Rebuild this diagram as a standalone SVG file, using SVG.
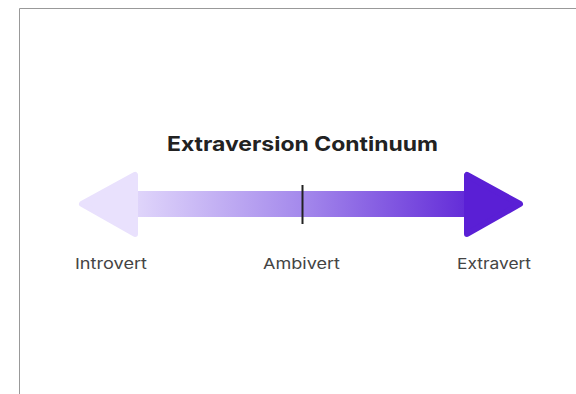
<svg xmlns="http://www.w3.org/2000/svg" width="576" height="394" viewBox="0 0 576 394">
<defs>
<linearGradient id="g" x1="110" y1="0" x2="490" y2="0" gradientUnits="userSpaceOnUse">
<stop offset="0" stop-color="#e9e1fd"/>
<stop offset="0.5" stop-color="#a58aec"/>
<stop offset="1" stop-color="#5a1fd5"/>
</linearGradient>
<style>
.lbl{font-family:Inter,"Liberation Sans",sans-serif;font-size:15px;fill:#444444;text-anchor:middle}
.title{font-family:Inter,"Liberation Sans",sans-serif;font-size:20px;font-weight:700;fill:#222222;text-anchor:middle}
</style>
</defs>
<rect x="0" y="0" width="576" height="394" fill="#ffffff"/>
<path d="M19.5 394 V8.5 H576" fill="none" stroke="#999999" stroke-width="1"/>
<g id="title"><text class="title" x="302.5" y="151" textLength="271" lengthAdjust="spacingAndGlyphs">Extraversion Continuum</text></g>
<g id="connectors">
<rect x="120" y="191" width="360" height="26" fill="url(#g)"/>
<path d="M135 175 L135 234 L82 204 Z" fill="#e9e1fd" stroke="#e9e1fd" stroke-width="6" stroke-linejoin="round"/>
<path d="M467 175 L467 234 L520 204 Z" fill="#5a1fd5" stroke="#5a1fd5" stroke-width="6" stroke-linejoin="round"/>
<line x1="302.5" y1="185" x2="302.5" y2="224" stroke="#222222" stroke-width="2"/>
</g>
<g id="introvert"><text class="lbl" x="111" y="269" textLength="72" lengthAdjust="spacingAndGlyphs">Introvert</text></g>
<g id="ambivert"><text class="lbl" x="301.5" y="269" textLength="77" lengthAdjust="spacingAndGlyphs">Ambivert</text></g>
<g id="extravert"><text class="lbl" x="494" y="269" textLength="74" lengthAdjust="spacingAndGlyphs">Extravert</text></g>
</svg>
